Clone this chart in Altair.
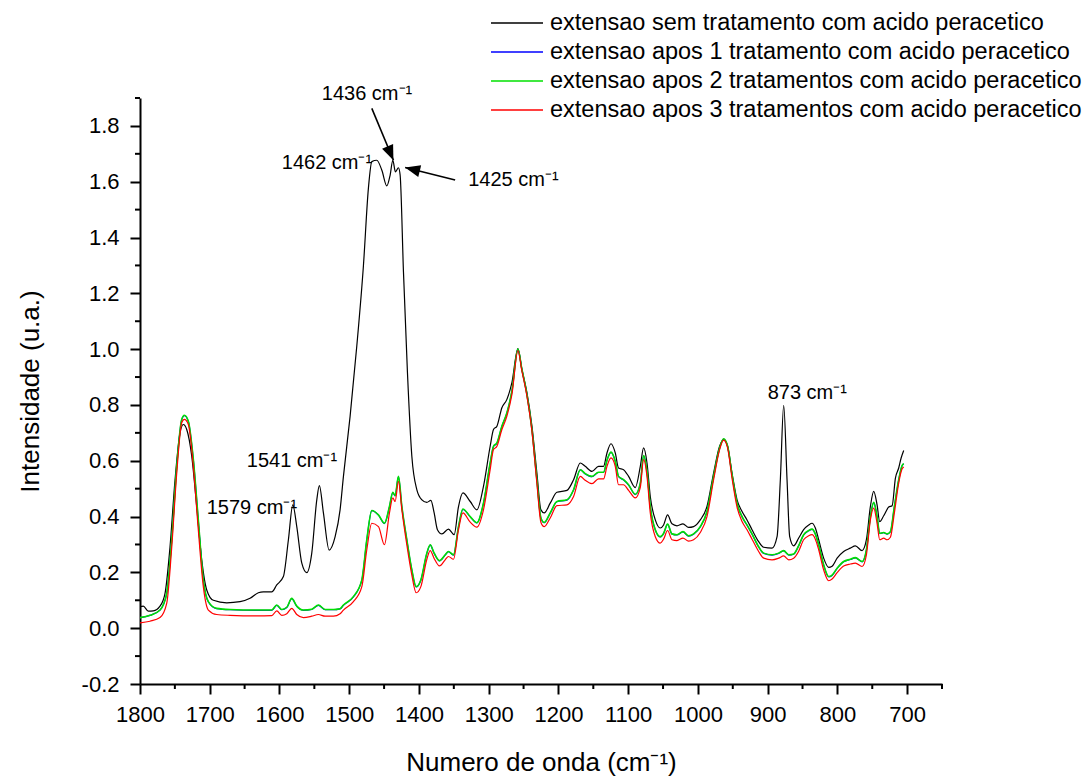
import altair as alt
import pandas as pd

FONT = "Liberation Sans, Arial, sans-serif"

series_names = [
    "extensao sem tratamento com acido peracetico",
    "extensao apos 1 tratamento com acido peracetico",
    "extensao apos 2 tratamentos com acido peracetico",
    "extensao apos 3 tratamentos com acido peracetico",
]
series_colors = ["#000000", "#0000ff", "#00e000", "#ff0000"]
series_widths = [1.2, 1.2, 1.6, 1.2]

# untreated sample
wn_black = [1800, 1795.3, 1788.1, 1780.9, 1771.3, 1764.1, 1757.0, 1749.8, 1742.6, 1737.9, 1733.0, 1725.8,
            1718.7, 1711.5, 1704.3, 1694.8, 1675.6, 1656.5, 1642.2, 1630.3, 1623.1, 1611.1, 1603.9, 1594.4,
            1587.2, 1580.9, 1575.2, 1568.0, 1560.8, 1553.7, 1546.5, 1542.8, 1537.0, 1528.8, 1520.2, 1513.1,
            1508.3, 1498.7, 1489.1, 1479.6, 1472.5, 1467.6, 1460.4, 1453.2, 1446.1, 1441.3, 1437.5, 1433.7,
            1429.4, 1427.0, 1422.2, 1416.5, 1410.2, 1403.0, 1395.8, 1388.7, 1382.9, 1378.2, 1373.5, 1367.1,
            1357.7, 1349.5, 1343.3, 1337.0, 1326.5, 1316.9, 1307.5, 1297.9, 1293.1, 1288.2, 1281.1, 1273.9,
            1266.7, 1258.1, 1252.4, 1245.2, 1238.0, 1230.9, 1225.1, 1220.4, 1211.8, 1202.2, 1187.8, 1178.3,
            1168.7, 1161.6, 1151.9, 1142.5, 1135.3, 1130.4, 1124.7, 1118.5, 1113.8, 1106.6, 1099.4, 1089.8,
            1082.6, 1077.9, 1073.0, 1068.3, 1061.1, 1054.0, 1049.2, 1043.5, 1037.2, 1030.0, 1021.4, 1013.4,
            1006.2, 996.6, 987.0, 977.5, 968.9, 963.1, 957.4, 951.1, 943.9, 936.7, 929.6, 922.4, 912.9,
            905.7, 893.7, 886.5, 881.8, 877.0, 872.2, 868.4, 862.7, 855.5, 848.4, 841.2, 836.3, 831.6,
            826.8, 819.7, 812.5, 807.6, 800.4, 791.0, 781.4, 774.2, 764.6, 758.4, 752.7, 747.9, 743.1,
            739.3, 733.6, 726.4, 721.5, 716.8, 712.1, 708.6, 704.9]
int_black = [0.077, 0.079, 0.061, 0.062, 0.079, 0.125, 0.29, 0.53, 0.70, 0.73, 0.712, 0.616,
             0.436, 0.245, 0.137, 0.10, 0.091, 0.095, 0.107, 0.127, 0.13, 0.13, 0.155, 0.185,
             0.317, 0.442, 0.364, 0.233, 0.199, 0.269, 0.46, 0.511, 0.413, 0.28, 0.328, 0.424,
             0.544, 0.76, 1.012, 1.30, 1.576, 1.672, 1.677, 1.641, 1.585, 1.624, 1.677, 1.635,
             1.65, 1.624, 1.276, 0.916, 0.616, 0.496, 0.46, 0.451, 0.458, 0.413, 0.353, 0.338,
             0.355, 0.335, 0.436, 0.485, 0.454, 0.424, 0.508, 0.652, 0.712, 0.724, 0.79, 0.82,
             0.88, 1.002, 0.928, 0.844, 0.724, 0.556, 0.424, 0.413, 0.448, 0.487, 0.494, 0.532,
             0.592, 0.58, 0.562, 0.58, 0.58, 0.628, 0.661, 0.628, 0.574, 0.568, 0.544, 0.504,
             0.58, 0.646, 0.592, 0.472, 0.388, 0.359, 0.37, 0.406, 0.374, 0.367, 0.374, 0.361,
             0.364, 0.388, 0.436, 0.556, 0.652, 0.676, 0.652, 0.556, 0.46, 0.418, 0.388, 0.353, 0.31,
             0.29, 0.287, 0.328, 0.532, 0.799, 0.532, 0.328, 0.295, 0.323, 0.353, 0.37, 0.376, 0.359,
             0.317, 0.251, 0.218, 0.222, 0.251, 0.275, 0.287, 0.295, 0.278, 0.317, 0.436, 0.49, 0.442,
             0.382, 0.403, 0.434, 0.439, 0.538, 0.574, 0.61, 0.637]

# treated samples (shared wavenumber grid)
wn_treated = [1800, 1785.7, 1771.3, 1761.7, 1754.5, 1747.3, 1740.2, 1736.4, 1730.7, 1723.5, 1716.4, 1709.2,
              1702.0, 1690.0, 1670.9, 1632.6, 1611.1, 1603.9, 1596.7, 1589.5, 1582.4, 1575.2, 1565.7, 1553.7,
              1544.2, 1534.6, 1522.7, 1513.1, 1508.3, 1494.0, 1481.9, 1474.8, 1467.6, 1458.1, 1449.5, 1442.3,
              1437.5, 1434.2, 1429.4, 1424.5, 1417.4, 1410.2, 1404.0, 1397.3, 1388.7, 1383.9, 1378.2, 1370.6,
              1362.4, 1357.7, 1350.5, 1343.3, 1337.0, 1326.5, 1316.9, 1307.5, 1297.9, 1293.1, 1288.2, 1281.1,
              1273.9, 1266.7, 1258.1, 1252.4, 1245.2, 1238.0, 1230.9, 1225.1, 1220.4, 1211.8, 1202.2, 1187.8,
              1178.3, 1168.7, 1161.6, 1151.9, 1142.5, 1135.3, 1130.4, 1124.7, 1118.5, 1113.8, 1106.6, 1099.4,
              1089.8, 1082.6, 1077.9, 1073.0, 1068.3, 1061.1, 1054.0, 1049.2, 1043.5, 1037.2, 1030.0, 1021.4,
              1013.4, 1006.2, 996.6, 987.0, 977.5, 968.9, 963.1, 957.4, 951.1, 943.9, 936.7, 929.6, 922.4,
              912.9, 905.7, 893.7, 884.2, 877.0, 869.8, 862.7, 855.5, 848.4, 841.2, 836.3, 831.6, 826.8,
              819.7, 812.5, 807.6, 800.4, 791.0, 781.4, 774.2, 764.6, 758.4, 752.7, 747.9, 743.1, 739.3,
              733.6, 728.8, 724.0, 718.3, 712.1, 707.2, 704.9]
int_apos2 = [0.038, 0.046, 0.065, 0.125, 0.317, 0.58, 0.748, 0.763, 0.742, 0.604, 0.388, 0.173,
             0.095, 0.071, 0.067, 0.065, 0.065, 0.083, 0.067, 0.075, 0.107, 0.079, 0.065, 0.068,
             0.083, 0.067, 0.067, 0.07, 0.083, 0.113, 0.173, 0.317, 0.422, 0.406, 0.376, 0.436,
             0.487, 0.475, 0.544, 0.436, 0.317, 0.209, 0.149, 0.173, 0.269, 0.299, 0.269, 0.242,
             0.263, 0.275, 0.263, 0.364, 0.427, 0.40, 0.378, 0.448, 0.592, 0.652, 0.664, 0.724,
             0.772, 0.85, 1.0, 0.928, 0.838, 0.712, 0.532, 0.395, 0.379, 0.413, 0.454, 0.46,
             0.496, 0.568, 0.554, 0.544, 0.559, 0.559, 0.602, 0.631, 0.598, 0.544, 0.532, 0.514,
             0.48, 0.52, 0.619, 0.562, 0.436, 0.353, 0.328, 0.34, 0.373, 0.338, 0.335, 0.346,
             0.331, 0.338, 0.364, 0.418, 0.544, 0.646, 0.679, 0.652, 0.55, 0.448, 0.40, 0.37, 0.338,
             0.292, 0.269, 0.263, 0.269, 0.278, 0.263, 0.266, 0.296, 0.335, 0.35, 0.355, 0.338, 0.299,
             0.227, 0.185, 0.19, 0.215, 0.239, 0.247, 0.253, 0.239, 0.281, 0.40, 0.451, 0.40, 0.34,
             0.343, 0.338, 0.346, 0.436, 0.532, 0.583, 0.59]
# the blue curve is hidden under the green one along the whole spectrum
int_apos1 = [0.038, 0.046, 0.065, 0.124, 0.316, 0.579, 0.747, 0.762, 0.741, 0.603, 0.387, 0.172,
             0.094, 0.070, 0.066, 0.064, 0.064, 0.082, 0.066, 0.074, 0.106, 0.078, 0.064, 0.067,
             0.082, 0.066, 0.066, 0.069, 0.082, 0.112, 0.172, 0.316, 0.421, 0.405, 0.375, 0.435,
             0.486, 0.474, 0.543, 0.435, 0.316, 0.208, 0.148, 0.172, 0.268, 0.298, 0.268, 0.241,
             0.262, 0.274, 0.262, 0.363, 0.426, 0.399, 0.377, 0.447, 0.591, 0.651, 0.663, 0.723,
             0.771, 0.849, 0.999, 0.927, 0.837, 0.711, 0.531, 0.394, 0.378, 0.412, 0.453, 0.459,
             0.495, 0.567, 0.553, 0.543, 0.558, 0.558, 0.601, 0.630, 0.597, 0.543, 0.531, 0.513,
             0.479, 0.519, 0.618, 0.561, 0.435, 0.352, 0.327, 0.339, 0.372, 0.337, 0.334, 0.345,
             0.330, 0.337, 0.363, 0.417, 0.543, 0.645, 0.678, 0.651, 0.549, 0.447, 0.399, 0.369, 0.337,
             0.291, 0.268, 0.262, 0.268, 0.277, 0.262, 0.265, 0.295, 0.334, 0.349, 0.354, 0.337, 0.298,
             0.226, 0.184, 0.189, 0.214, 0.238, 0.246, 0.252, 0.238, 0.280, 0.399, 0.450, 0.399, 0.339,
             0.342, 0.337, 0.345, 0.435, 0.531, 0.582, 0.589]
int_apos3 = [0.019, 0.025, 0.038, 0.089, 0.29, 0.556, 0.736, 0.748, 0.73, 0.58, 0.353, 0.149,
             0.065, 0.049, 0.046, 0.044, 0.045, 0.062, 0.046, 0.052, 0.071, 0.049, 0.038, 0.043,
             0.049, 0.043, 0.043, 0.052, 0.065, 0.095, 0.149, 0.281, 0.376, 0.364, 0.299, 0.413,
             0.467, 0.454, 0.526, 0.424, 0.299, 0.19, 0.127, 0.149, 0.247, 0.278, 0.25, 0.223,
             0.245, 0.257, 0.247, 0.353, 0.413, 0.38, 0.362, 0.424, 0.568, 0.64, 0.652, 0.712,
             0.76, 0.838, 0.995, 0.922, 0.832, 0.706, 0.52, 0.379, 0.364, 0.395, 0.439, 0.442,
             0.472, 0.544, 0.53, 0.518, 0.535, 0.535, 0.58, 0.61, 0.58, 0.514, 0.514, 0.494,
             0.467, 0.505, 0.604, 0.544, 0.413, 0.328, 0.305, 0.319, 0.35, 0.317, 0.314, 0.323,
             0.312, 0.317, 0.343, 0.40, 0.532, 0.64, 0.674, 0.646, 0.538, 0.434, 0.382, 0.353, 0.319,
             0.275, 0.251, 0.245, 0.251, 0.259, 0.245, 0.251, 0.276, 0.317, 0.331, 0.335, 0.319, 0.281,
             0.209, 0.17, 0.176, 0.199, 0.223, 0.23, 0.233, 0.221, 0.263, 0.388, 0.43, 0.376, 0.317,
             0.323, 0.317, 0.326, 0.413, 0.52, 0.571, 0.578]

# axis ticks
x_major = [1800, 1700, 1600, 1500, 1400, 1300, 1200, 1100, 1000, 900, 800, 700]
x_minor = [1750, 1650, 1550, 1450, 1350, 1250, 1150, 1050, 950, 850, 750, 650]
y_major = [-0.2, 0.0, 0.2, 0.4, 0.6, 0.8, 1.0, 1.2, 1.4, 1.6, 1.8]
y_minor = [-0.1, 0.1, 0.3, 0.5, 0.7, 0.9, 1.1, 1.3, 1.5, 1.7, 1.9]

# peak annotations (left edge of text, vertical middle)
ann_text = ["1436 cm\u207b\u00b9", "1462 cm\u207b\u00b9", "1425 cm\u207b\u00b9",
            "1579 cm\u207b\u00b9", "1541 cm\u207b\u00b9", "873 cm\u207b\u00b9"]
ann_x = [1539.3, 1596.7, 1329.4, 1704.3, 1646.9, 900.0]
ann_y = [1.916, 1.666, 1.606, 0.429, 0.599, 0.843]

# arrows: start -> tip
arr_x1 = [1467.6, 1348.1]
arr_y1 = [1.863, 1.606]
arr_x2 = [1436.6, 1419.8]
arr_y2 = [1.677, 1.651]
arr_angle = [157, 284]

W, H = 802, 586

rows = []
for k, (wns, vals) in enumerate([(wn_black, int_black), (wn_treated, int_apos1),
                                 (wn_treated, int_apos2), (wn_treated, int_apos3)]):
    for w, v in zip(wns, vals):
        rows.append({"serie": series_names[k], "wn": w, "inten": v})
df = pd.DataFrame(rows)

x_scale = alt.Scale(domain=[650, 1800], reverse=True, nice=False, zero=False)
y_scale = alt.Scale(domain=[-0.2, 1.9], nice=False, zero=False)
color_scale = alt.Scale(domain=series_names, range=series_colors)

common_axis = dict(tickSize=10, tickWidth=2, domainWidth=2, domainColor="black", tickColor="black",
                   labelFontSize=22, labelFont=FONT, labelColor="black", titleFontSize=26,
                   titleFont=FONT, titleFontWeight="normal", titleColor="black", grid=False,
                   labelOverlap=False, labelFlush=False)
x_axis = alt.Axis(values=x_major, format="d", title="Numero de onda (cm\u207b\u00b9)",
                  labelPadding=10, titlePadding=24, **common_axis)
y_axis = alt.Axis(values=y_major, title="Intensidade (u.a.)",
                  labelExpr="replace(format(datum.value, '.1f'), '\u2212', '-')",
                  labelPadding=11, titlePadding=38, **common_axis)

legend = alt.Legend(title=None, orient="none", legendX=350, legendY=-87.5, symbolType="stroke",
                    symbolSize=2704, symbolStrokeWidth=1.6, labelFontSize=23.5, labelFont=FONT,
                    labelColor="black", clipHeight=25, rowPadding=4, labelOffset=6, padding=0,
                    symbolOffset=0, labelLimit=1000)


def X(field):
    return alt.X(field, type="quantitative", scale=x_scale, axis=x_axis)


def Y(field):
    return alt.Y(field, type="quantitative", scale=y_scale, axis=y_axis)


layers = []
for name, sw in zip(series_names, series_widths):
    layers.append(
        alt.Chart(df).transform_filter(alt.datum.serie == name)
        .mark_line(strokeWidth=sw, interpolate="monotone", clip=True)
        .encode(x=X("wn"), y=Y("inten"),
                color=alt.Color("serie:N", scale=color_scale, legend=legend, sort=series_names))
    )

xm = pd.DataFrame({"v": x_minor})
ym = pd.DataFrame({"v": y_minor})
minor_x = alt.Chart(xm).mark_rule(color="black", strokeWidth=2).encode(
    x=X("v"), y=alt.value(H), y2=alt.value(H + 5))
minor_y = alt.Chart(ym).mark_rule(color="black", strokeWidth=2).encode(
    y=Y("v"), x=alt.value(-5), x2=alt.value(0))

ann = pd.DataFrame({"label": ann_text, "x": ann_x, "y": ann_y})
texts = alt.Chart(ann).mark_text(align="left", baseline="middle", font=FONT, fontSize=20,
                                 color="black").encode(x=X("x"), y=Y("y"), text="label:N")

arr = pd.DataFrame({"x1": arr_x1, "y1": arr_y1, "x2": arr_x2, "y2": arr_y2, "a": arr_angle})
arrow_lines = alt.Chart(arr).mark_rule(color="black", strokeWidth=1.6).encode(
    x=X("x1"), y=Y("y1"), x2="x2:Q", y2="y2:Q")
arrow_heads = alt.Chart(arr).mark_point(shape="M0,0L-0.4,1L0.4,1Z", filled=True, size=900,
                                        color="black", opacity=1, strokeWidth=0).encode(
    x=X("x2"), y=Y("y2"), angle=alt.Angle("a:Q", scale=None))

chart = alt.layer(*layers, minor_x, minor_y, arrow_lines, arrow_heads, texts).properties(
    width=W, height=H,
    autosize=alt.AutoSizeParams(type="none"),
    padding={"left": 140, "top": 98, "right": 144, "bottom": 96},
    background="white",
).configure_view(stroke=None)

chart.save("out.html", embed_options={"renderer": "svg", "actions": False})
